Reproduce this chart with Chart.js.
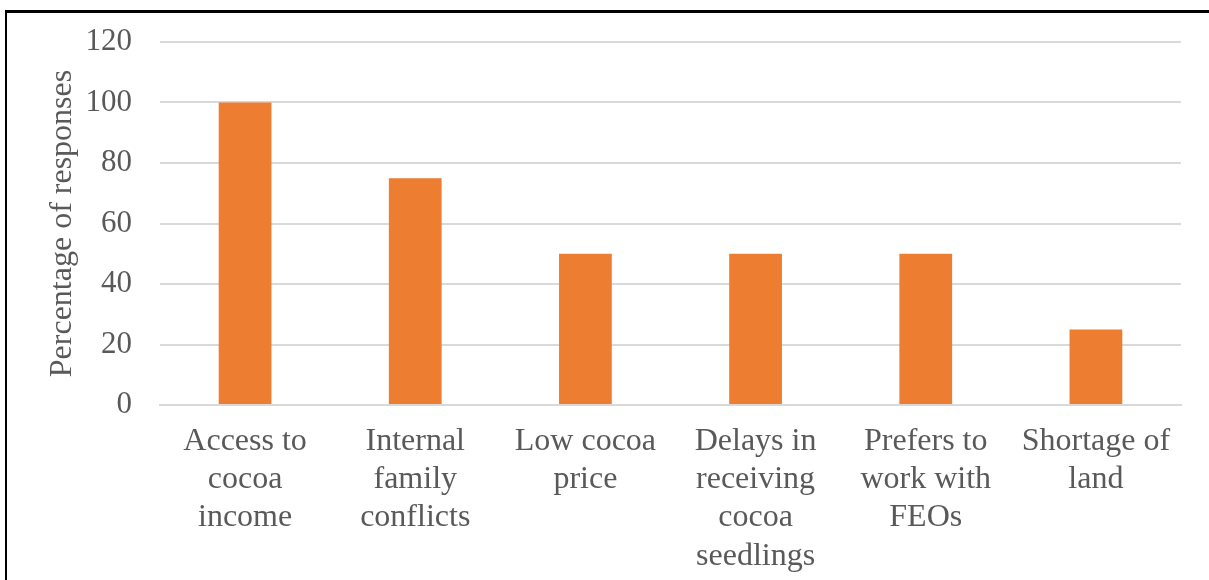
<!DOCTYPE html>
<html>
<head>
<meta charset="utf-8">
<script src="https://cdn.jsdelivr.net/npm/chart.js@4"></script>
<style>
  html, body { margin: 0; padding: 0; background: #ffffff; }
  #wrap { position: relative; width: 1209px; height: 580px; }
</style>
</head>
<body>
<div id="wrap"><canvas id="c" width="1209" height="580"></canvas></div>
<script>
// Reasons given, share of responses (%)
const categories = [
  ["Access to", "cocoa", "income"],
  ["Internal", "family", "conflicts"],
  ["Low cocoa", "price"],
  ["Delays in", "receiving", "cocoa", "seedlings"],
  ["Prefers to", "work with", "FEOs"],
  ["Shortage of", "land"]
];
const responses = [100, 75, 50, 50, 50, 25];
const yTicks = [0, 20, 40, 60, 80, 100, 120];

const textColor = '#595959';
const serif = "'Liberation Serif', 'Times New Roman', serif";

// Frame lines along the top and left edges
const framePlugin = {
  id: 'frame',
  afterDraw(chart) {
    const ctx = chart.ctx;
    ctx.save();
    ctx.fillStyle = '#000000';
    ctx.fillRect(5, 10, 1204, 3);
    ctx.fillRect(5, 10, 2, 570);
    ctx.restore();
  }
};

new Chart(document.getElementById('c'), {
  type: 'bar',
  data: {
    labels: categories,
    datasets: [{
      data: responses,
      backgroundColor: '#ED7D31',
      borderWidth: 0,
      categoryPercentage: 1,
      barPercentage: 0.31
    }]
  },
  options: {
    responsive: false,
    animation: false,
    layout: { padding: { top: 42, right: 28, left: 10, bottom: 0 } },
    plugins: { legend: { display: false }, tooltip: { enabled: false } },
    scales: {
      x: {
        grid: { display: false, drawTicks: false },
        border: { display: true, color: '#d9d9d9', width: 2 },
        ticks: {
          color: textColor,
          font: { family: serif, size: 32 },
          padding: 17,
          maxRotation: 0,
          autoSkip: false
        },
        afterFit(scale) {
          scale.height = 175;
          scale.paddingLeft = 0;
          scale.paddingRight = 0;
        }
      },
      y: {
        min: 0,
        max: 120,
        afterBuildTicks(scale) { scale.ticks = yTicks.map(v => ({ value: v })); },
        grid: { color: '#d9d9d9', lineWidth: 2, drawTicks: false },
        border: { display: false },
        ticks: {
          color: textColor,
          font: { family: serif, size: 31 },
          padding: 28
        },
        title: {
          display: true,
          text: 'Percentage of responses',
          color: textColor,
          font: { family: serif, size: 32 },
          padding: { top: 33, bottom: 0 }
        },
        afterFit(scale) {
          scale.width = 150;
          scale.paddingTop = 0;
          scale.paddingBottom = 0;
        }
      }
    }
  },
  plugins: [framePlugin]
});
</script>
</body>
</html>
